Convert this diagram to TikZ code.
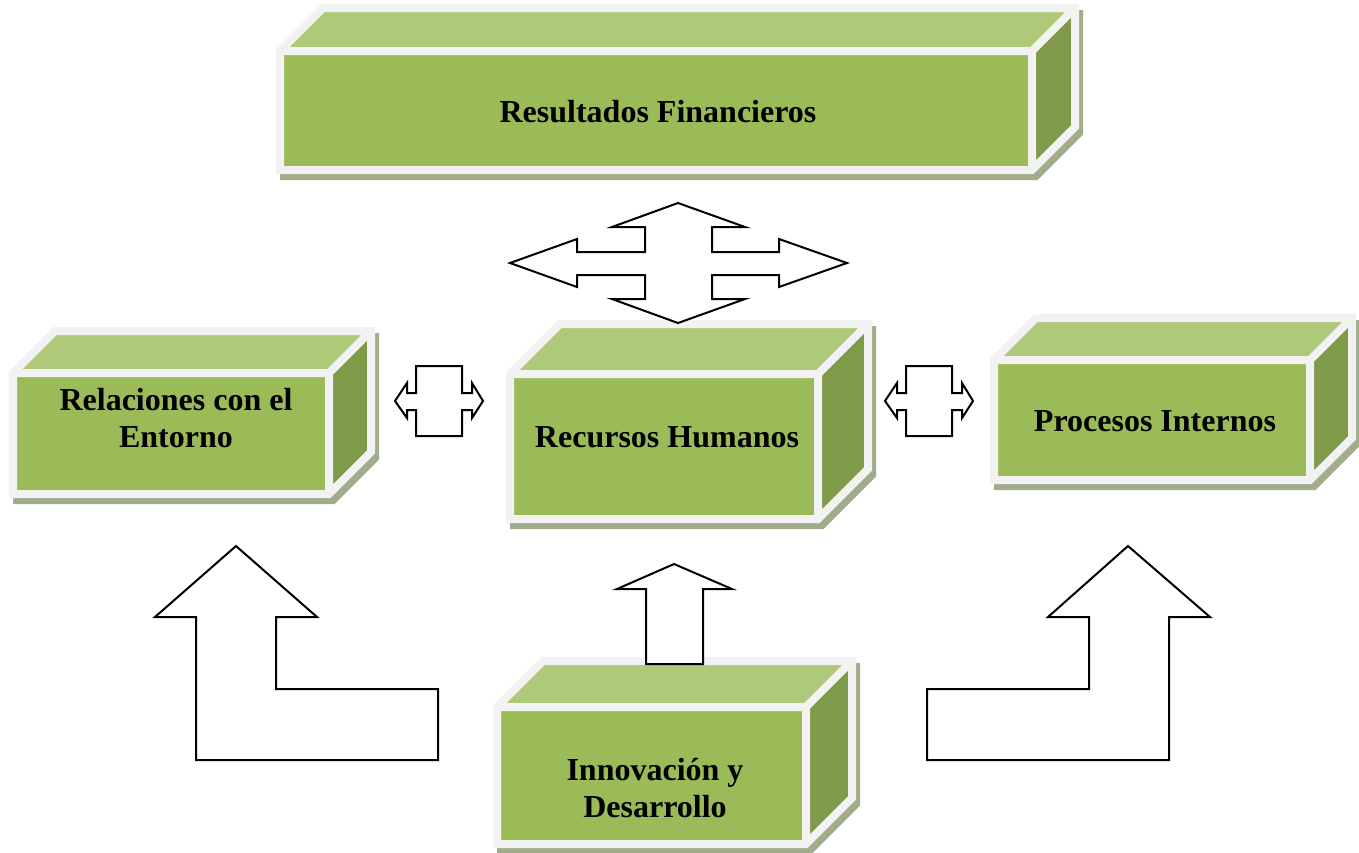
\documentclass[tikz,border=0pt]{standalone}
\usepackage{fontspec}
\setmainfont{Liberation Serif}
\definecolor{verde}{RGB}{155,187,89}
\definecolor{verdeclaro}{RGB}{175,201,123}
\definecolor{verdeoscuro}{RGB}{127,154,72}
\definecolor{borde}{RGB}{242,242,242}
\definecolor{sombraverde}{RGB}{160,172,138}
\begin{document}
\begin{tikzpicture}[x=1pt,y=-1pt,
  sombra/.style={fill=sombraverde,draw=sombraverde,line width=8pt},
  frente/.style={fill=verde},
  tapa/.style={fill=verdeclaro},
  lado/.style={fill=verdeoscuro},
  arista/.style={draw=borde,line width=8pt,line join=miter},
  texto/.style={font=\fontsize{32}{37}\selectfont\bfseries,align=center,text=black},
  bloque/.style={draw=black,fill=white,line width=2pt,line join=miter}]
\useasboundingbox (0,0) rectangle (1359,852);

% Resultados Financieros
\draw[sombra,shift={(4,6)}] (280,170)--(280,51)--(323,8)--(1075,8)--(1075,127)--(1032,170)--cycle;
\fill[frente] (280,51) rectangle (1032,170);
\fill[tapa] (280,51)--(323,8)--(1075,8)--(1032,51)--cycle;
\fill[lado] (1032,51)--(1075,8)--(1075,127)--(1032,170)--cycle;
\draw[arista] (280,170)--(280,51)--(323,8)--(1075,8)--(1075,127)--(1032,170)--cycle
  (280,51)--(1032,51)--(1032,170) (1032,51)--(1075,8);
\node[texto] (resultados) at (658,112) {Resultados Financieros};

% Relaciones con el Entorno
\draw[sombra,shift={(4,6)}] (13,494)--(13,373)--(55,331)--(371,331)--(371,452)--(329,494)--cycle;
\fill[frente] (13,373) rectangle (329,494);
\fill[tapa] (13,373)--(55,331)--(371,331)--(329,373)--cycle;
\fill[lado] (329,373)--(371,331)--(371,452)--(329,494)--cycle;
\draw[arista] (13,494)--(13,373)--(55,331)--(371,331)--(371,452)--(329,494)--cycle
  (13,373)--(329,373)--(329,494) (329,373)--(371,331);
\node[texto] (relaciones) at (176,418) {Relaciones con el\\Entorno};

% Recursos Humanos
\draw[sombra,shift={(4,6)}] (510,519)--(510,374)--(560,324)--(868,324)--(868,469)--(818,519)--cycle;
\fill[frente] (510,374) rectangle (818,519);
\fill[tapa] (510,374)--(560,324)--(868,324)--(818,374)--cycle;
\fill[lado] (818,374)--(868,324)--(868,469)--(818,519)--cycle;
\draw[arista] (510,519)--(510,374)--(560,324)--(868,324)--(868,469)--(818,519)--cycle
  (510,374)--(818,374)--(818,519) (818,374)--(868,324);
\node[texto] (recursos) at (667,437) {Recursos Humanos};

% Procesos Internos
\draw[sombra,shift={(4,6)}] (994,480)--(994,360)--(1036,318)--(1352,318)--(1352,438)--(1310,480)--cycle;
\fill[frente] (994,360) rectangle (1310,480);
\fill[tapa] (994,360)--(1036,318)--(1352,318)--(1310,360)--cycle;
\fill[lado] (1310,360)--(1352,318)--(1352,438)--(1310,480)--cycle;
\draw[arista] (994,480)--(994,360)--(1036,318)--(1352,318)--(1352,438)--(1310,480)--cycle
  (994,360)--(1310,360)--(1310,480) (1310,360)--(1352,318);
\node[texto] (procesos) at (1155,421) {Procesos Internos};

% Innovacion y Desarrollo
\draw[sombra,shift={(4,6)}] (497,844)--(497,707)--(543,661)--(852,661)--(852,798)--(806,844)--cycle;
\fill[frente] (497,707) rectangle (806,844);
\fill[tapa] (497,707)--(543,661)--(852,661)--(806,707)--cycle;
\fill[lado] (806,707)--(852,661)--(852,798)--(806,844)--cycle;
\draw[arista] (497,844)--(497,707)--(543,661)--(852,661)--(852,798)--(806,844)--cycle
  (497,707)--(806,707)--(806,844) (806,707)--(852,661);
\node[texto] (innovacion) at (655,788) {Innovación y\\Desarrollo};

% flecha de cuatro puntas
\draw[bloque] (678,203)--(745,227)--(712,227)--(712,252)--(779,252)--(779,239)--(847,263)
  --(779,287)--(779,275)--(712,275)--(712,299)--(745,299)--(678,323)--(612,299)--(645,299)
  --(645,275)--(577,275)--(577,287)--(510,263)--(577,239)--(577,252)--(645,252)--(645,227)
  --(612,227)--cycle;

% flechas dobles pequenas
\draw[bloque] (416,366)--(462,366)--(462,393)--(472,393)--(472,383)--(483,401)--(472,418)
  --(472,410)--(462,410)--(462,436)--(416,436)--(416,410)--(407,410)--(407,418)--(395,401)
  --(407,383)--(407,393)--(416,393)--cycle;
\draw[bloque,xshift=490] (416,366)--(462,366)--(462,393)--(472,393)--(472,383)--(483,401)--(472,418)
  --(472,410)--(462,410)--(462,436)--(416,436)--(416,410)--(407,410)--(407,418)--(395,401)
  --(407,383)--(407,393)--(416,393)--cycle;

% flechas dobladas
\draw[bloque] (236,546)--(317,617)--(276,617)--(276,689)--(438,689)--(438,760)--(196,760)
  --(196,617)--(155,617)--cycle;
\draw[bloque] (1128,546)--(1210,617)--(1169,617)--(1169,760)--(927,760)--(927,689)--(1089,689)
  --(1089,617)--(1048,617)--cycle;

% flecha hacia arriba
\draw[bloque] (674,564)--(732,589)--(703,589)--(703,664)--(646,664)--(646,589)--(617,589)--cycle;
\end{tikzpicture}
\end{document}
